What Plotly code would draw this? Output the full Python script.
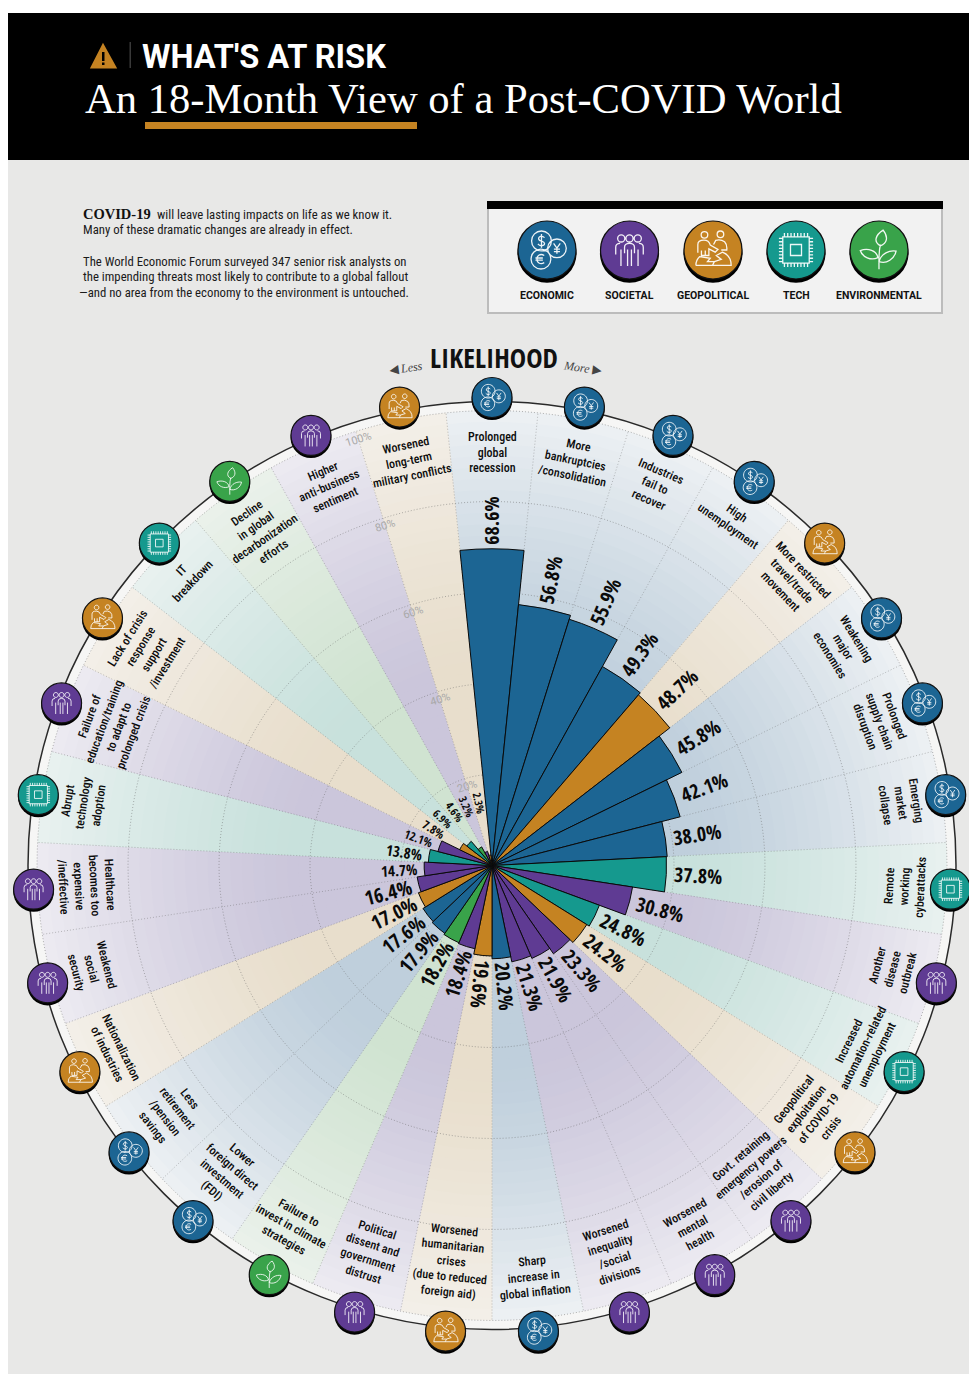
import math
import plotly.graph_objects as go

W, H = 969, 1374
CX, CY = 492.0, 865.5
R_DISC = 464.0
R_MAX = 100.5
PX_PER = R_DISC / R_MAX

categories = [
    "Prolonged<br>global<br>recession", "More<br>bankruptcies<br>/consolidation",
    "Industries<br>fail to<br>recover", "High<br>unemployment",
    "More restricted<br>travel/trade<br>movement", "Weakening<br>major<br>economies",
    "Prolonged<br>supply chain<br>disruption", "Emerging<br>market<br>collapse",
    "Remote<br>working<br>cyberattacks", "Another<br>disease<br>outbreak",
    "Increased<br>automation-related<br>unemployment",
    "Geopolitical<br>exploitation<br>of COVID-19<br>crisis",
    "Govt. retaining<br>emergency powers<br>/erosion of<br>civil liberty",
    "Worsened<br>mental<br>health", "Worsened<br>inequality<br>/social<br>divisions",
    "Sharp<br>increase in<br>global inflation",
    "Worsened<br>humanitarian<br>crises<br>(due to reduced<br>foreign aid)",
    "Political<br>dissent and<br>government<br>distrust",
    "Failure to<br>invest in climate<br>strategies",
    "Lower<br>foreign direct<br>investment<br>(FDI)",
    "Less<br>retirement<br>/pension<br>savings", "Nationalization<br>of industries",
    "Weakened<br>social<br>security",
    "Healthcare<br>becomes too<br>expensive<br>/ineffective",
    "Abrupt<br>technology<br>adoption",
    "Failure of<br>education/training<br>to adapt to<br>prolonged crisis",
    "Lack of crisis<br>response<br>support<br>/investment", "IT<br>breakdown",
    "Decline<br>in global<br>decarbonization<br>efforts",
    "Higher<br>anti-business<br>sentiment", "Worsened<br>long-term<br>military conflicts",
]
values = [68.6, 56.8, 55.9, 49.3, 48.7, 45.8, 42.1, 38.0, 37.8, 30.8, 24.8, 24.2, 23.3, 21.9, 21.3, 20.2,
          19.6, 18.4, 18.2, 17.9, 17.6, 17.0, 16.4, 14.7, 13.8, 12.1, 7.8, 6.9, 4.6, 3.2, 2.3]
groups = ["E", "E", "E", "E", "G", "E", "E", "E", "T", "S", "T", "G", "S", "S", "S", "E",
          "G", "S", "N", "E", "E", "G", "S", "S", "T", "S", "G", "T", "N", "S", "G"]
legend_keys = ["E", "S", "G", "T", "N"]
legend_names = ["ECONOMIC", "SOCIETAL", "GEOPOLITICAL", "TECH", "ENVIRONMENTAL"]
ring_labels = ["20%", "40%", "60%", "80%", "100%"]

COL = {"E": "#1c6593", "S": "#5f3b93", "G": "#c58322", "T": "#15998e", "N": "#39a34a"}
INNER = {"E": (191, 207, 220), "S": (203, 198, 219), "G": (232, 222, 204), "T": (200, 225, 220), "N": (208, 227, 209)}
OUTER = {"E": (236, 240, 243), "S": (236, 234, 241), "G": (243, 239, 232), "T": (232, 241, 239), "N": (234, 241, 234)}

LABEL_FONT = "Roboto Condensed"
VALUE_FONT = "Open Sans Condensed"

N = len(values)
STEP = 360.0 / N
thetas = [i * STEP for i in range(N)]
RING_SCALE = 0.9855  # dotted rings sit a little inside the bar scale
RING_OUTER = 100 * RING_SCALE


def pxy(theta, r):
    a = math.radians(theta)
    return CX + r * math.sin(a), CY - r * math.cos(a)


def mix(a, b, t):
    return "rgb(%d,%d,%d)" % tuple(round(a[k] + (b[k] - a[k]) * t) for k in range(3))


fig = go.Figure()

# sector backdrop: painted from the outermost band inwards for a soft radial fade
BANDS = 40
for b in range(BANDS, 0, -1):
    frac = b / BANDS
    t = max(0.0, min(1.0, (frac - 0.45) / 0.55)) ** 1.3
    fig.add_trace(go.Barpolar(
        subplot="polar", r=[RING_OUTER * frac] * N, theta=thetas, width=[STEP + 0.08] * N,
        marker=dict(color=[mix(INNER[g], OUTER[g], t) for g in groups], line=dict(width=0)),
        hoverinfo="skip", showlegend=False))

# dotted grid between backdrop and bars
circle_theta = list(range(0, 361, 2))
for k in range(1, 6):
    fig.add_trace(go.Scatterpolar(
        subplot="polar", r=[20 * k * RING_SCALE] * len(circle_theta), theta=circle_theta, mode="lines",
        line=dict(color="rgba(100,100,100,0.6)", width=0.8, dash="1px,2px"), hoverinfo="skip", showlegend=False))
for i in range(N):
    fig.add_trace(go.Scatterpolar(
        subplot="polar", r=[0, RING_OUTER], theta=[(i + 0.5) * STEP] * 2, mode="lines",
        line=dict(color="rgba(100,100,100,0.5)", width=0.8, dash="1px,2px"), hoverinfo="skip", showlegend=False))

# the bars
fig.add_trace(go.Barpolar(
    subplot="polar2", r=values, theta=thetas, width=[STEP] * N,
    marker=dict(color=[COL[g] for g in groups], line=dict(color="#0a0a0a", width=1)),
    hoverinfo="skip", showlegend=False))

shapes, annots = [], []


def X(x):
    return round(x / W, 5)


def Y(y):
    return round(1 - y / H, 5)


def text(s, x, y, size, color="#111", font=LABEL_FONT, angle=0, xa="center", weight=None, style=None):
    f = dict(size=size, color=color, family=font)
    if weight:
        f["weight"] = weight
    if style:
        f["style"] = style
    annots.append(dict(text=s, x=X(x), y=Y(y), xref="paper", yref="paper", showarrow=False, xanchor=xa,
                       yanchor="middle", textangle=angle, font=f, align="center", borderpad=0, borderwidth=0))


def rect(x0, y0, x1, y1, fill, line=None, lw=0, layer="below"):
    shapes.append(dict(type="rect", xref="paper", yref="paper", x0=X(x0), x1=X(x1), y0=Y(y0), y1=Y(y1),
                       fillcolor=fill, line=dict(color=line or fill, width=lw), layer=layer))


def circ(x, y, r, fill, line=None, lw=0):
    shapes.append(dict(type="circle", xref="paper", yref="paper", x0=X(x - r), x1=X(x + r), y0=Y(y + r),
                       y1=Y(y - r), fillcolor=fill, line=dict(color=line or fill, width=lw), layer="above"))


# ---- glyph line-art, in a unit circle, y pointing down ----
def c_path(x, y, r):
    k = 0.5523 * r
    return [("M", x + r, y), ("C", x + r, y + k, x + k, y + r, x, y + r), ("C", x - k, y + r, x - r, y + k, x - r, y),
            ("C", x - r, y - k, x - k, y - r, x, y - r), ("C", x + k, y - r, x + r, y - k, x + r, y), ("Z",)]


def box(x0, y0, x1, y1):
    return [("M", x0, y0), ("L", x1, y0), ("L", x1, y1), ("L", x0, y1), ("Z",)]


def glyph(kind):
    p = []
    if kind == "E":
        p += c_path(-0.2, -0.33, 0.36) + c_path(0.36, -0.06, 0.34) + c_path(-0.22, 0.33, 0.36)
        p += [("M", -0.09, -0.45), ("C", -0.16, -0.53, -0.33, -0.5, -0.3, -0.39), ("C", -0.28, -0.3, -0.1, -0.34, -0.09, -0.24),
              ("C", -0.08, -0.14, -0.26, -0.12, -0.33, -0.22), ("M", -0.2, -0.58), ("L", -0.2, -0.08)]
        p += [("M", 0.24, -0.24), ("L", 0.36, -0.07), ("L", 0.48, -0.24), ("M", 0.36, -0.07), ("L", 0.36, 0.14),
              ("M", 0.25, -0.03), ("L", 0.47, -0.03), ("M", 0.25, 0.06), ("L", 0.47, 0.06)]
        p += [("M", -0.1, 0.2), ("C", -0.26, 0.1, -0.38, 0.24, -0.36, 0.33), ("C", -0.38, 0.44, -0.25, 0.55, -0.1, 0.46),
              ("M", -0.42, 0.29), ("L", -0.15, 0.29), ("M", -0.42, 0.37), ("L", -0.15, 0.37)]
    elif kind == "S":
        for x, y in [(-0.3, -0.42), (0.0, -0.42), (0.3, -0.42)]:
            p += c_path(x, y, 0.13)
        p += [("M", -0.5, 0.16), ("L", -0.5, -0.1), ("Q", -0.5, -0.24, -0.34, -0.24),
              ("M", 0.5, 0.16), ("L", 0.5, -0.1), ("Q", 0.5, -0.24, 0.34, -0.24)]
        p += [("M", -0.18, 0.12), ("L", -0.18, -0.1), ("Q", -0.18, -0.24, 0, -0.24), ("Q", 0.18, -0.24, 0.18, -0.1), ("L", 0.18, 0.12),
              ("M", -0.07, -0.02), ("L", -0.07, 0.58), ("M", 0.07, -0.02), ("L", 0.07, 0.58),
              ("M", 0.31, -0.02), ("L", 0.31, 0.58), ("M", -0.31, -0.02), ("L", -0.31, 0.58)]
    elif kind == "G":
        p += c_path(-0.31, -0.55, 0.12) + c_path(0.27, -0.57, 0.12)
        p += [("M", -0.55, 0.1), ("L", -0.55, -0.2), ("Q", -0.55, -0.36, -0.33, -0.36), ("Q", -0.15, -0.36, -0.1, -0.18),
              ("L", 0.18, -0.02), ("L", 0.08, 0.08), ("L", -0.15, -0.04), ("L", -0.15, 0.2), ("L", -0.42, 0.2), ("L", -0.42, 0.02),
              ("M", -0.28, 0.02), ("L", -0.28, 0.2),
              ("M", 0.02, -0.2), ("L", 0.1, -0.35), ("Q", 0.28, -0.4, 0.42, -0.3), ("Q", 0.52, -0.2, 0.5, 0.0), ("L", 0.3, 0.0),
              ("M", -0.62, 0.56), ("L", 0.66, 0.56), ("Q", 0.66, 0.2, 0.34, 0.08), ("L", 0.12, 0.2), ("L", 0.3, 0.34), ("L", 0.05, 0.42),
              ("M", -0.62, 0.56), ("Q", -0.62, 0.36, -0.48, 0.24), ("L", -0.1, 0.3), ("L", -0.2, 0.42), ("L", 0.05, 0.42), ("L", -0.02, 0.56)]
    elif kind == "T":
        p += box(-0.48, -0.48, 0.48, 0.48) + box(-0.2, -0.2, 0.2, 0.2)
        for i in range(8):
            v = -0.42 + i * 0.12
            p += [("M", v, -0.62), ("L", v, -0.48), ("M", v, 0.48), ("L", v, 0.62),
                  ("M", -0.62, v), ("L", -0.48, v), ("M", 0.48, v), ("L", 0.62, v)]
    else:
        p += [("M", 0.0, 0.7), ("C", 0.0, 0.35, -0.02, 0.1, 0.05, -0.2)]
        p += [("M", 0.05, -0.15), ("C", -0.22, -0.3, -0.12, -0.55, 0.15, -0.72), ("C", 0.36, -0.45, 0.28, -0.25, 0.05, -0.15), ("Z",)]
        p += [("M", -0.04, 0.28), ("C", -0.08, 0.02, -0.4, -0.08, -0.68, 0.02), ("C", -0.6, 0.26, -0.3, 0.4, -0.04, 0.28), ("Z",)]
        p += [("M", 0.0, 0.42), ("C", 0.08, 0.12, 0.38, 0.0, 0.62, 0.04), ("C", 0.56, 0.32, 0.28, 0.52, 0.0, 0.42), ("Z",)]
    return p


def icon(g, x, y, r, lw):
    circ(x, y + r * 0.11, r * 1.02, "#000")
    circ(x, y, r, COL[g], "#111", 1.2)
    parts = []
    for cmd in glyph(g):
        if cmd[0] == "Z":
            parts.append("Z")
            continue
        vals = cmd[1:]
        xy = []
        for j in range(0, len(vals), 2):
            xy.append("%.5f,%.5f" % (X(x + vals[j] * r * 0.95), Y(y + vals[j + 1] * r * 0.95)))
        parts.append(cmd[0] + " " + " ".join(xy))
    shapes.append(dict(type="path", path=" ".join(parts), xref="paper", yref="paper",
                       line=dict(color="rgba(255,255,255,0.92)", width=lw), fillcolor="rgba(0,0,0,0)", layer="above"))


# ---- page blocks ----
rect(8, 160, W, H, "#e8e8e7")
rect(8, 13, W, 160, "#000000")
rect(145, 122, 417, 129, "#c58322", layer="above")
rect(129.5, 42, 131, 68, "#3a3a3a", layer="above")
shapes.append(dict(type="path", xref="paper", yref="paper", layer="above", fillcolor="#c58322", line=dict(color="#c58322", width=2),
                   path="M %.5f,%.5f L %.5f,%.5f L %.5f,%.5f Z" % (X(103), Y(45), X(91.5), Y(67.5), X(115.5), Y(67.5))))
rect(102, 52, 104.5, 61, "#000", layer="above")
rect(102, 62.5, 104.5, 65, "#000", layer="above")

text("WHAT'S AT RISK", 142, 57, 32.6, "#fff", "Roboto", xa="left", weight=700)
text("An 18-Month View of a Post-COVID World", 85, 99, 42.6, "#fff", "Liberation Serif", xa="left")

text("<b>COVID-19</b>", 83, 214, 14.5, "#111", "Liberation Serif", xa="left")
intro = [("will leave lasting impacts on life as we know it.", 157, 214),
         ("Many of these dramatic changes are already in effect.", 83, 230),
         ("The World Economic Forum surveyed 347 senior risk analysts on", 83, 261),
         ("the impending threats most likely to contribute to a global fallout", 83, 277),
         ("—and no area from the economy to the environment is untouched.", 79, 292)]
for s, x, y in intro:
    text(s, x, y, 12.75, "#1a1a1a", xa="left")

# legend box
rect(488, 203, 942, 313, "#f2f2f2", "#bcbcbc", 2)
rect(487, 201, 943, 209, "#000000")
legend_x = [547, 629.5, 713, 796, 879]
for g, name, x in zip(legend_keys, legend_names, legend_x):
    icon(g, x, 250, 29, 1.3)
    text(name, x, 295.5, 10.5, "#111", "Roboto", weight=700)

# likelihood heading
text("LIKELIHOOD", 494, 358, 27.5, "#111", VALUE_FONT)
text("◀ <i>Less</i>", 406, 368, 12, "#444", "Liberation Serif", angle=-8)
text("<i>More</i> ▶", 583, 368, 12, "#444", "Liberation Serif", angle=8)

# ring tick labels
ring_theta = (N - 1 - 0.5) * STEP
for k, lab in enumerate(ring_labels, start=1):
    x, y = pxy(ring_theta, 20 * k * RING_SCALE * PX_PER - 8)
    text(lab, x, y, 11, "#a9a9a9", "Roboto", angle=ring_theta - 360)

# value and category labels + icons
for i, (cat, v, g, th) in enumerate(zip(categories, values, groups, thetas)):
    s = "%.1f%%" % v
    size = 20 if v >= 15 else (15 if v >= 13 else (12 if v >= 7 else 11))
    bar_r = v * PX_PER
    length = size * 2.3 * (len(s) / 5)
    gap = 5 + 3.5 * abs(math.sin(math.radians(th)))
    r_lab = max(bar_r + gap + length / 2, 61 + v)
    ang = th - 90 if th < 190 else th - 270
    x, y = pxy(th, r_lab)
    text(s, x, y, size, "#0a0a0a", VALUE_FONT, angle=ang)

    n = cat.count("<br>") + 1
    x, y = pxy(th, 436 - n * 7.6)
    ang = th if (th <= 90 or th >= 270) else th - 180
    if ang >= 270:
        ang -= 360
    text(cat, x, y, 12, "#0c0c0c", LABEL_FONT, angle=ang, weight=500)

    a = math.radians(th)
    icon(g, CX + 459 * math.sin(a), CY - 468 * math.cos(a), 20, 0.9)

fig.update_layout(
    width=W, height=H, margin=dict(l=0, r=0, t=0, b=0), paper_bgcolor="#ffffff", showlegend=False, autosize=False,
    shapes=shapes, annotations=annots,
    polar=dict(
        domain=dict(x=[(CX - R_DISC) / W, (CX + R_DISC) / W], y=[1 - (CY + R_DISC) / H, 1 - (CY - R_DISC) / H]),
        bgcolor="#f6f6f5", barmode="overlay",
        radialaxis=dict(range=[0, R_MAX], visible=False),
        angularaxis=dict(rotation=90, direction="clockwise", showgrid=False, showticklabels=False, ticks="",
                         showline=True, linecolor="#2a2a2a", linewidth=1.5)),
    polar2=dict(
        domain=dict(x=[(CX - R_DISC) / W, (CX + R_DISC) / W], y=[1 - (CY + R_DISC) / H, 1 - (CY - R_DISC) / H]),
        bgcolor="rgba(0,0,0,0)", barmode="overlay",
        radialaxis=dict(range=[0, R_MAX], visible=False),
        angularaxis=dict(rotation=90, direction="clockwise", showgrid=False, showticklabels=False, ticks="", showline=False)),
)

fig.write_html("out.html", config={"displayModeBar": False},
               post_script="document.body.style.margin='0';document.documentElement.style.overflow='hidden';")
